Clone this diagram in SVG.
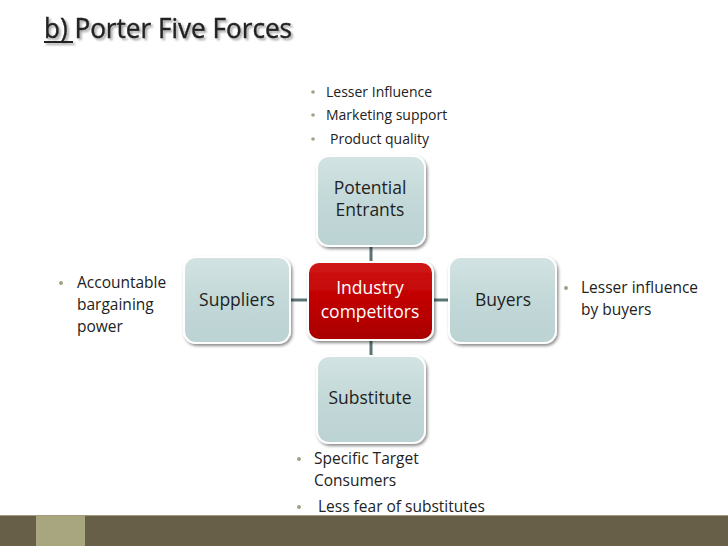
<svg xmlns="http://www.w3.org/2000/svg" width="728" height="546" viewBox="0 0 728 546">
<defs>
<linearGradient id="gBox" x1="0" y1="0" x2="0" y2="1">
<stop offset="0" stop-color="#d3e3e3"/>
<stop offset="0.5" stop-color="#c3d8d8"/>
<stop offset="1" stop-color="#bcd3d3"/>
</linearGradient>
<linearGradient id="gRed" x1="0" y1="0" x2="0" y2="1">
<stop offset="0" stop-color="#d01818"/>
<stop offset="0.5" stop-color="#c00000"/>
<stop offset="1" stop-color="#a80000"/>
</linearGradient>
<filter id="sh" x="-20%" y="-20%" width="140%" height="140%">
<feDropShadow dx="1.5" dy="2" stdDeviation="1.5" flood-color="#000" flood-opacity="0.45"/>
</filter>
<filter id="tsh" x="-5%" y="-20%" width="110%" height="150%">
<feDropShadow dx="2" dy="2" stdDeviation="1.2" flood-color="#000" flood-opacity="0.35"/>
</filter>
</defs>
<style>
.box{fill:url(#gBox);stroke:#ffffff;stroke-width:2;filter:url(#sh)}
.red{fill:url(#gRed);stroke:#ffffff;stroke-width:2;filter:url(#sh)}
.lbl{font-family:"Open Sans","Liberation Sans",sans-serif;font-size:17.5px;fill:#1f1f1f;text-anchor:middle}
.wlbl{font-family:"Open Sans","Liberation Sans",sans-serif;font-size:17.5px;fill:#fff;text-anchor:middle}
.txt{font-family:"Open Sans","Liberation Sans",sans-serif;fill:#222}
.bul{fill:#9aa585}
.con{stroke:#5c7373;stroke-width:3;fill:none}
</style>
<rect width="728" height="546" fill="#ffffff"/>
<g id="title" filter="url(#tsh)">
<text x="44" y="38" class="txt" font-size="28" textLength="248" lengthAdjust="spacingAndGlyphs" fill="#222" stroke="#222" stroke-width="0.4">b) Porter Five Forces</text>
<line x1="44" y1="42" x2="73" y2="42" stroke="#222" stroke-width="2"/>
</g>
<g id="connectors">
<line class="con" x1="371" y1="246" x2="371" y2="262"/>
<line class="con" x1="371" y1="340" x2="371" y2="356"/>
<line class="con" x1="290" y1="300" x2="309" y2="300"/>
<line class="con" x1="432" y1="300" x2="449" y2="300"/>
</g>
<g id="potential-entrants">
<rect class="box" x="317" y="156" width="108" height="90" rx="12"/>
<text class="lbl" x="370" y="194">Potential</text>
<text class="lbl" x="370" y="216">Entrants</text>
</g>
<g id="industry-competitors">
<rect class="red" x="308" y="262" width="125" height="78" rx="11"/>
<text class="wlbl" x="370" y="294">Industry</text>
<text class="wlbl" x="370" y="318">competitors</text>
</g>
<g id="suppliers">
<rect class="box" x="184" y="257" width="106" height="86" rx="12"/>
<text class="lbl" x="237" y="306">Suppliers</text>
</g>
<g id="buyers">
<rect class="box" x="449" y="257" width="107" height="86" rx="12"/>
<text class="lbl" x="503" y="306">Buyers</text>
</g>
<g id="substitute">
<rect class="box" x="317" y="356" width="108" height="87" rx="12"/>
<text class="lbl" x="370" y="404">Substitute</text>
</g>
<g id="notes-top" class="txt" font-size="14">
<circle class="bul" cx="313" cy="92" r="1.8"/>
<text x="326" y="97">Lesser Influence</text>
<circle class="bul" cx="313" cy="115" r="1.8"/>
<text x="326" y="120">Marketing support</text>
<circle class="bul" cx="313" cy="139" r="1.8"/>
<text x="330" y="144">Product quality</text>
</g>
<g id="notes-left" class="txt" font-size="15.5">
<circle class="bul" cx="61" cy="283" r="2"/>
<text x="77" y="288">Accountable</text>
<text x="77" y="310">bargaining</text>
<text x="77" y="332">power</text>
</g>
<g id="notes-right" class="txt" font-size="15.5">
<circle class="bul" cx="566" cy="288" r="2"/>
<text x="581" y="293">Lesser influence</text>
<text x="581" y="315">by buyers</text>
</g>
<g id="notes-bottom" class="txt" font-size="15.5">
<circle class="bul" cx="299" cy="459" r="2"/>
<text x="314" y="464">Specific Target</text>
<text x="314" y="486">Consumers</text>
<circle class="bul" cx="299" cy="507" r="2"/>
<text x="318" y="512">Less fear of substitutes</text>
</g>
<g id="footer">
<rect x="0" y="515" width="728" height="31" fill="#675f48"/>
<line x1="0" y1="515.5" x2="728" y2="515.5" stroke="#a09a80" stroke-width="1"/>
<rect x="36" y="516" width="49" height="30" fill="#a8a67e"/>
</g>
</svg>
